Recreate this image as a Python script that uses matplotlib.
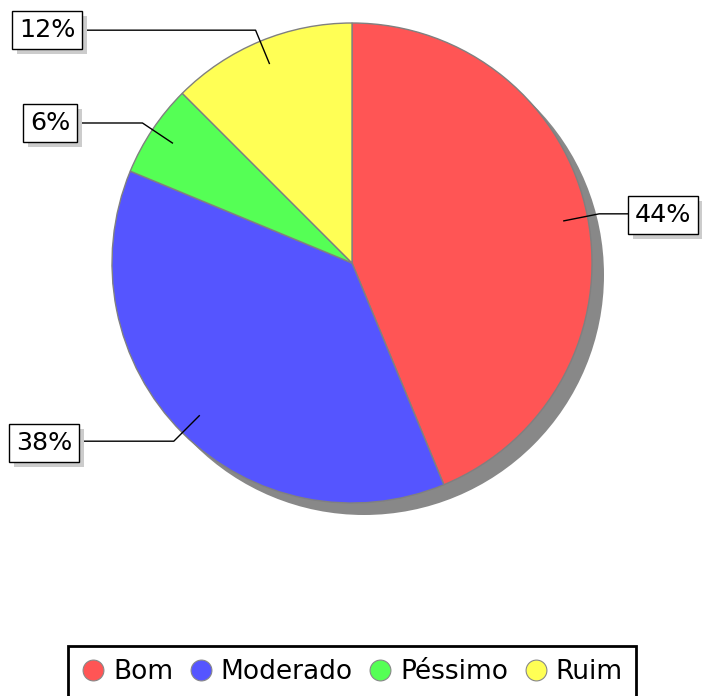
import numpy as np
import matplotlib
matplotlib.use('Agg')
import matplotlib.pyplot as plt
import matplotlib.patheffects as pe
from matplotlib.lines import Line2D
from matplotlib.patches import Circle

# data
categorias = ['Bom', 'Moderado', 'Péssimo', 'Ruim']
contagem = [7, 6, 1, 2]
cores = ['#ff5555', '#5555ff', '#55ff55', '#ffff55']

total = float(sum(contagem))
rotulos = ['%.0f%%' % (100.0 * c / total) for c in contagem]

# label box centres (pixel coords)
pos_rotulos = [(663, 215), (44, 443), (50, 123), (47, 30)]

W, H = 702, 696
fig = plt.figure(figsize=(W / 100., H / 100.), dpi=100)
ax = fig.add_axes([0, 0, 1, 1])

cx, cy, r = 352, 263, 240

# shadow
sombra = Circle((cx + 12, cy + 12), r, facecolor='#888888', edgecolor='none', zorder=0)
ax.add_patch(sombra)

# y axis is inverted below, so counterclock in data = clockwise on screen
wedges, _ = ax.pie(contagem, colors=cores, startangle=-90, counterclock=True,
                   center=(cx, cy), radius=r,
                   wedgeprops=dict(edgecolor='#808080', linewidth=1))
for w in wedges:
    w.set_zorder(1)

ax.set_xlim(0, W)
ax.set_ylim(H, 0)
ax.set_aspect('equal')
ax.axis('off')

# labels with leader lines
ang0 = 90.0
for i, c in enumerate(contagem):
    span = 360.0 * c / total
    mid = np.deg2rad(ang0 - span / 2.0)
    ang0 -= span
    x1, y1 = cx + 0.9 * r * np.cos(mid), cy - 0.9 * r * np.sin(mid)
    x2, y2 = cx + 1.05 * r * np.cos(mid), cy - 1.05 * r * np.sin(mid)
    lx, ly = pos_rotulos[i]
    ax.plot([x1, x2, lx], [y1, y2, y2], color='black', lw=1, zorder=3)
    t = ax.text(lx, ly, rotulos[i], fontsize=18.3, ha='center', va='center',
                color='black', zorder=5,
                bbox=dict(boxstyle='square,pad=0.28', fc='white', ec='black', lw=1))
    t.get_bbox_patch().set_path_effects([
        pe.SimplePatchShadow(offset=(3.6, -3.6), shadow_rgbFace='#cccccc', alpha=1),
        pe.Normal()])

handles = [Line2D([], [], marker='o', linestyle='none', markersize=15,
                  markerfacecolor=cores[i], markeredgecolor='#888888', markeredgewidth=0.8)
           for i in range(len(categorias))]
leg = ax.legend(handles, categorias, loc='upper center',
                bbox_to_anchor=(352 / W, 1 - 646 / H), ncol=4, fontsize=19,
                frameon=True, fancybox=False, framealpha=1, edgecolor='black',
                borderpad=0.5, borderaxespad=0, handlelength=0.9, handletextpad=0.3,
                columnspacing=0.6)
leg.get_frame().set_linewidth(2)

fig.savefig('out.png', dpi=100)
